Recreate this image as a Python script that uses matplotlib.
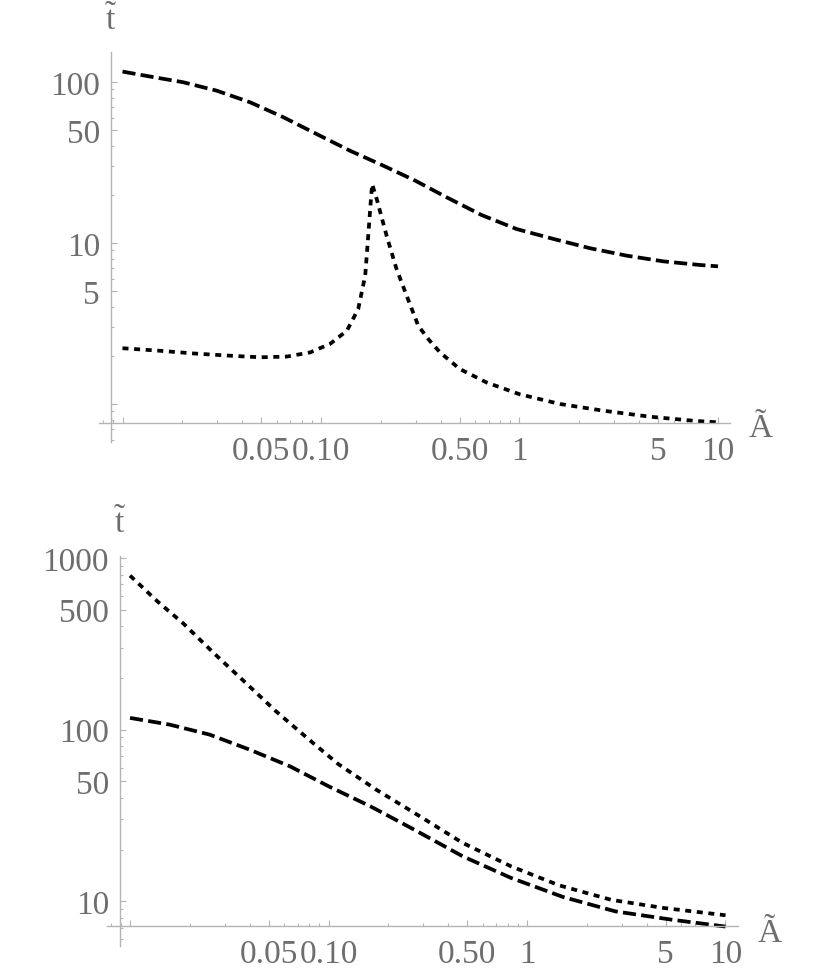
import matplotlib
matplotlib.use("Agg")
import matplotlib.pyplot as plt
from matplotlib.ticker import LogLocator, NullFormatter

plt.rcParams['font.family'] = ['Liberation Serif', 'DejaVu Serif']
plt.rcParams['mathtext.fontset'] = 'custom'
plt.rcParams['mathtext.rm'] = 'Liberation Serif'
plt.rcParams['mathtext.it'] = 'Liberation Serif'

# data
# top panel
top_dash_x = [0.01, 0.0138, 0.0202, 0.0298, 0.0439, 0.0646, 0.095, 0.14, 0.206, 0.298,
              0.43, 0.645, 0.968, 1.48, 2.27, 3.47, 5.3, 8.11, 10]
top_dash_y = [116, 108, 99.6, 88.3, 74.8, 60.4, 47.5, 37.4, 30.2, 24.4,
              19.2, 14.9, 12.2, 10.6, 9.27, 8.34, 7.69, 7.3, 7.16]
top_dot_x = [0.01, 0.0155, 0.0228, 0.0335, 0.0493, 0.0672, 0.088, 0.111, 0.135, 0.154,
             0.167, 0.173, 0.178, 0.181, 0.191, 0.214, 0.24, 0.27, 0.309, 0.35, 0.398,
             0.5, 0.683, 1.0, 1.6, 2.64, 4.54, 7.51, 10]
top_dot_y = [2.22, 2.14, 2.06, 2.0, 1.95, 1.97, 2.09, 2.36, 2.85, 3.89,
             6.27, 11.1, 17.9, 23.2, 18.7, 11.1, 6.91, 4.71, 3.06, 2.5, 2.09,
             1.65, 1.36, 1.15, 1.0, 0.909, 0.834, 0.787, 0.769]
# bottom panel
bot_dot_x = [0.01, 0.0137, 0.0186, 0.0266, 0.0383, 0.0543, 0.0807, 0.112, 0.174, 0.271,
             0.474, 0.83, 1.45, 2.66, 4.88, 10]
bot_dot_y = [789, 560, 414, 277, 187, 128, 86.5, 63, 44.7, 32.7,
             21.9, 16.0, 12.4, 10.2, 9.15, 8.3]
bot_dash_x = [0.01, 0.0158, 0.0252, 0.0401, 0.064, 0.1, 0.163, 0.271, 0.474, 0.83,
              1.52, 2.79, 5.36, 10]
bot_dash_y = [117, 107, 93.5, 76.4, 61.1, 46.8, 35.7, 26.1, 18.3, 13.7,
              10.6, 8.74, 7.82, 7.13]

x_ticks = [0.01, 0.05, 0.1, 0.5, 1, 5, 10]
x_labels = ['', '0.05', '0.10', '0.50', '1', '5', '10']
top_y_ticks = [1, 5, 10, 50, 100]
top_y_labels = ['', '5', '10', '50', '100']
bot_y_ticks = [10, 50, 100, 500, 1000]
bot_y_labels = ['10', '50', '100', '500', '1000']

W, H = 830, 978
fig = plt.figure(figsize=(W / 100, H / 100), dpi=100)

axis_col = '#b4b4b4'
lab_col = '#6e6e6e'
lw = 2.7


def setup(ax, xlim, ylim, x0, y0, yticks, ylabels):
    ax.set_xscale('log')
    ax.set_yscale('log')
    ax.set_xlim(*xlim)
    ax.set_ylim(*ylim)
    for s in ['top', 'right']:
        ax.spines[s].set_visible(False)
    ax.spines['left'].set_position(('data', x0))
    ax.spines['bottom'].set_position(('data', y0))
    for s in ['left', 'bottom']:
        ax.spines[s].set_color(axis_col)
        ax.spines[s].set_linewidth(1.0)
    ax.set_xticks(x_ticks, x_labels)
    ax.set_yticks(yticks, ylabels)
    ax.xaxis.set_minor_locator(LogLocator(base=10, subs=range(2, 10), numticks=20))
    ax.yaxis.set_minor_locator(LogLocator(base=10, subs=range(2, 10), numticks=20))
    ax.xaxis.set_minor_formatter(NullFormatter())
    ax.yaxis.set_minor_formatter(NullFormatter())
    ax.tick_params(which='both', direction='in', color=axis_col, width=0.8,
                   labelcolor=lab_col, labelsize=24)
    ax.tick_params(which='major', length=4.5)
    ax.tick_params(which='minor', length=2.2)
    ax.tick_params(axis='x', pad=9)
    ax.tick_params(axis='y', pad=8)
    ax.patch.set_alpha(0)


ax1 = fig.add_axes([99 / W, 1 - 443 / H, 631 / W, 390 / H])
setup(ax1, (10 ** -2.1184, 10 ** 1.0605), (10 ** -0.236, 10 ** 2.186),
      10 ** -2.058, 10 ** -0.118, top_y_ticks, top_y_labels)
ax1.plot(top_dash_x, top_dash_y, color='black', lw=lw, dashes=(3.5, 1.4),
         dash_capstyle='butt', clip_on=False)
ax1.plot(top_dot_x, top_dot_y, color='black', lw=lw, dashes=(1.6, 1.5),
         dash_capstyle='butt', clip_on=False)

ax2 = fig.add_axes([107 / W, 1 - 947 / H, 631 / W, 390 / H])
setup(ax2, (10 ** -2.116, 10 ** 1.063), (10 ** 0.740, 10 ** 3.011),
      10 ** -2.050, 10 ** 0.856, bot_y_ticks, bot_y_labels)
ax2.plot(bot_dot_x, bot_dot_y, color='black', lw=lw, dashes=(1.6, 1.5),
         dash_capstyle='butt', clip_on=False)
ax2.plot(bot_dash_x, bot_dash_y, color='black', lw=lw, dashes=(3.5, 1.4),
         dash_capstyle='butt', clip_on=False)

# axis labels
fig.text(111 / W, 1 - 30 / H, r'$\tilde{\mathrm{t}}$', color=lab_col, fontsize=24,
         ha='center', va='baseline')
fig.text(749 / W, 1 - 437 / H, 'Ã', color=lab_col, fontsize=24, ha='left', va='baseline')
fig.text(120 / W, 1 - 533 / H, r'$\tilde{\mathrm{t}}$', color=lab_col, fontsize=24,
         ha='center', va='baseline')
fig.text(758 / W, 1 - 942 / H, 'Ã', color=lab_col, fontsize=24, ha='left', va='baseline')

fig.savefig('out.png', dpi=100)
